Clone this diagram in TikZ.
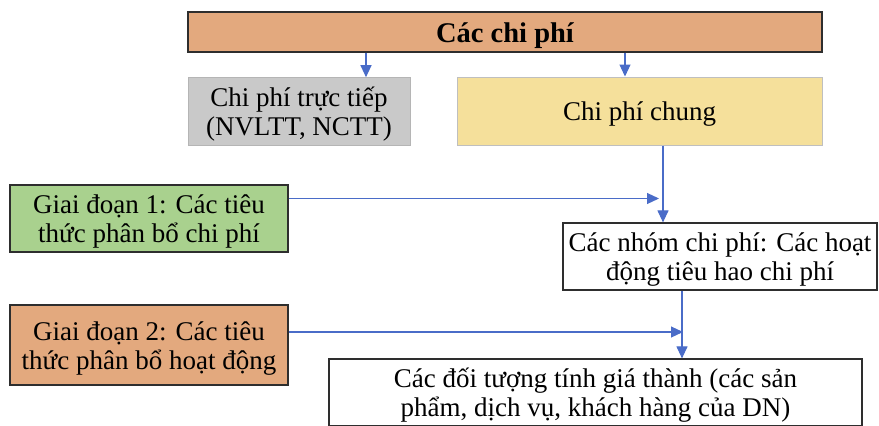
\documentclass[tikz,border=0pt]{standalone}
\usepackage{fontspec}
\setmainfont{Liberation Serif}
\usetikzlibrary{arrows.meta}
\definecolor{orangefill}{HTML}{E3A97E}
\definecolor{grayfill}{HTML}{C9C9C9}
\definecolor{yellowfill}{HTML}{F5E09B}
\definecolor{greenfill}{HTML}{A9D18E}
\definecolor{arrowblue}{HTML}{4A6CC8}
\definecolor{boxline}{HTML}{2E2E2E}
\newcommand{\boxtext}[1]{\raisebox{-4pt}[\height][\depth]{\begin{tabular}{@{}c@{}}#1\end{tabular}}}
\tikzset{
  box/.style={rectangle, draw=boxline, line width=1.2pt, inner sep=1pt,
    font=\fontsize{27}{29}\selectfont},
  arr/.style={draw=arrowblue, line width=1.1pt, -{Triangle[length=12pt,width=11pt]}},
}
\begin{document}
\begin{tikzpicture}[x=1pt,y=-1pt]
\useasboundingbox (0,0) rectangle (879,426);
\node[box, fill=orangefill, minimum width=634pt, minimum height=40pt, font=\fontsize{28.5}{30}\selectfont\bfseries] (top) at (505,32) {\boxtext{Các chi phí}};
\node[box, fill=grayfill, draw=grayfill!90!black, line width=0.6pt, minimum width=222pt, minimum height=68pt] (direct) at (299,111.5) {\boxtext{Chi phí trực tiếp\\(NVLTT, NCTT)}};
\node[box, fill=yellowfill, draw=black!25, line width=1pt, minimum width=365pt, minimum height=68pt] (general) at (639.5,111) {\boxtext{Chi phí chung}};
\node[box, fill=greenfill, minimum width=278pt, minimum height=67pt] (stage1) at (149,218.5) {\boxtext{Giai đoạn 1: Các tiêu\\thức phân bổ chi phí}};
\node[box, fill=white, minimum width=314pt, minimum height=67pt] (pools) at (720,256.5) {\boxtext{Các nhóm chi phí: Các hoạt\\động tiêu hao chi phí}};
\node[box, fill=orangefill, minimum width=278pt, minimum height=80pt] (stage2) at (149,345) {\boxtext{Giai đoạn 2: Các tiêu\\thức phân bổ hoạt động}};
\node[box, fill=white, minimum width=533pt, minimum height=67pt] (objects) at (595.5,392.5) {\boxtext{Các đối tượng tính giá thành (các sản\\phẩm, dịch vụ, khách hàng của DN)}};
\coordinate (xa) at (366,0);
\coordinate (xb) at (625,0);
\coordinate (xc) at (663,0);
\coordinate (xd) at (682,0);
\coordinate (j1) at (659,198.5);
\coordinate (j2) at (683,332);
\draw[arr] (top.south -| xa) -- (direct.north -| xa);
\draw[arr] (top.south -| xb) -- (general.north -| xb);
\draw[arr] (general.south -| xc) -- (pools.north -| xc);
\draw[arr] (pools.south -| xd) -- (objects.north -| xd);
\draw[arr] (stage1.east |- j1) -- (j1);
\draw[arr] (stage2.east |- j2) -- (j2);
\end{tikzpicture}
\end{document}
